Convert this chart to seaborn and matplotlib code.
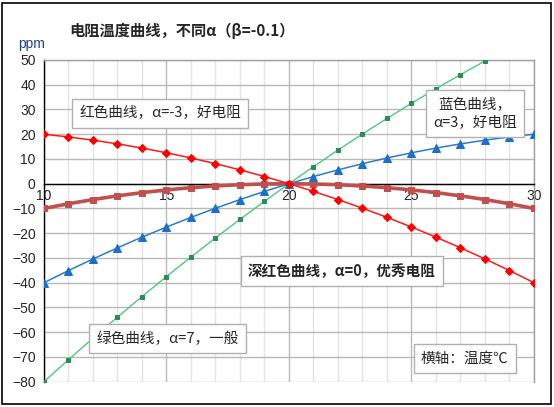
import matplotlib
matplotlib.use("Agg")
import matplotlib.pyplot as plt
import pandas as pd
import seaborn as sns
from matplotlib.ticker import MultipleLocator

# temperature, deg C
temps = list(range(10, 31))
green_temps = list(range(10, 29))

# ppm values
red_ppm = [20, 18.9, 17.6, 16.1, 14.4, 12.5, 10.4, 8.1, 5.6, 2.9, 0,
           -3.1, -6.4, -9.9, -13.6, -17.5, -21.6, -25.9, -30.4, -35.1, -40]
blue_ppm = [-40, -35.1, -30.4, -25.9, -21.6, -17.5, -13.6, -9.9, -6.4, -3.1, 0,
            2.9, 5.6, 8.1, 10.4, 12.5, 14.4, 16.1, 17.6, 18.9, 20]
darkred_ppm = [-10, -8.1, -6.4, -4.9, -3.6, -2.5, -1.6, -0.9, -0.4, -0.1, 0,
               -0.1, -0.4, -0.9, -1.6, -2.5, -3.6, -4.9, -6.4, -8.1, -10]
green_ppm = [-80, -71.1, -62.4, -53.9, -45.6, -37.5, -29.6, -21.9, -14.4, -7.1, 0,
             6.9, 13.6, 20.1, 26.4, 32.5, 38.4, 44.1, 49.6]

x_ticks = [10, 15, 20, 25, 30]
y_ticks = list(range(-80, 51, 10))

sns.set_style("white")
plt.rcParams['font.family'] = ['Noto Sans CJK SC', 'DejaVu Sans']

fig = plt.figure(figsize=(5.54, 4.07), dpi=100)
fig.patch.set_facecolor('white')
ax = fig.add_axes([0.0794, 0.0622, 0.8845, 0.7904])

# outer frame of the picture
fig.patches.append(plt.Rectangle((0.004, 0.007), 0.99, 0.986, transform=fig.transFigure,
                                 fill=False, edgecolor='black', linewidth=1.2))

df_green = pd.DataFrame({'t': green_temps, 'ppm': green_ppm})
df_blue = pd.DataFrame({'t': temps, 'ppm': blue_ppm})
df_red = pd.DataFrame({'t': temps, 'ppm': red_ppm})
df_dark = pd.DataFrame({'t': temps, 'ppm': darkred_ppm})

sns.lineplot(data=df_green, x='t', y='ppm', ax=ax, color='#4cc97a', linewidth=1.0,
             marker='s', markersize=3.2, markerfacecolor='#2e8b57', markeredgecolor='#2e8b57', zorder=3)
sns.lineplot(data=df_dark, x='t', y='ppm', ax=ax, color='#c0504d', linewidth=2.6,
             marker='s', markersize=5, markerfacecolor='#c0504d', markeredgecolor='#c0504d', zorder=4)
sns.lineplot(data=df_blue, x='t', y='ppm', ax=ax, color='#2b7cc8', linewidth=1.1,
             marker='^', markersize=5.5, markerfacecolor='#1f6fc4', markeredgecolor='#1f6fc4', zorder=5)
sns.lineplot(data=df_red, x='t', y='ppm', ax=ax, color='#ff1a1a', linewidth=1.1,
             marker='D', markersize=4.5, markerfacecolor='#ff0000', markeredgecolor='#ff0000', zorder=6)

ax.set_xlim(10, 30)
ax.set_ylim(-80, 50)
ax.xaxis.set_major_locator(MultipleLocator(5))
ax.xaxis.set_minor_locator(MultipleLocator(1))
ax.set_yticks(y_ticks)
ax.set_xticks(x_ticks)
ax.grid(which='major', color='#b8b8b8', linewidth=1.0)
ax.grid(which='minor', axis='x', color='#e4e4e4', linewidth=1.0)
ax.set_axisbelow(True)

ax.spines['bottom'].set_position(('data', 0))
ax.spines['bottom'].set_color('black')
ax.spines['left'].set_color('black')
ax.spines['top'].set_color('#a0a0a0')
ax.spines['right'].set_color('#a0a0a0')
for s in ax.spines.values():
    s.set_linewidth(1.0)

ax.tick_params(axis='x', which='both', direction='out', length=4, color='black',
               labelsize=10, pad=0)
ax.tick_params(axis='x', which='minor', length=4)
ax.tick_params(axis='y', direction='out', length=0, labelsize=10, pad=6)
for lab in ax.get_xticklabels() + ax.get_yticklabels():
    lab.set_family(['Liberation Sans', 'DejaVu Sans'])
ax.set_xlabel('')
ax.set_ylabel('')

fig.text(0.125, 0.925, '电阻温度曲线，不同α（β=-0.1）', fontsize=11, fontweight='bold',
         ha='left', va='center')
fig.text(0.032, 0.893, 'ppm', fontsize=10, color='#1f3f8f', ha='left', va='center',
         family=['Liberation Sans', 'DejaVu Sans'])

box = dict(boxstyle='square,pad=0.5', facecolor='white', edgecolor='#b0b0b0', linewidth=1.0)
fig.text(0.289, 0.722, '红色曲线，α=-3，好电阻', fontsize=10.5, ha='center', va='center', bbox=box)
fig.text(0.858, 0.721, '蓝色曲线，\nα=3，好电阻', fontsize=10.5, ha='center', va='center',
         linespacing=1.35, bbox=box)
fig.text(0.617, 0.334, '深红色曲线，α=0，优秀电阻', fontsize=10.5, fontweight='bold',
         ha='center', va='center', bbox=box)
fig.text(0.302, 0.168, '绿色曲线，α=7，一般', fontsize=10.5, ha='center', va='center', bbox=box)
fig.text(0.839, 0.119, '横轴：温度℃', fontsize=10.5, ha='center', va='center', bbox=box)

fig.savefig('out.png', dpi=100)
